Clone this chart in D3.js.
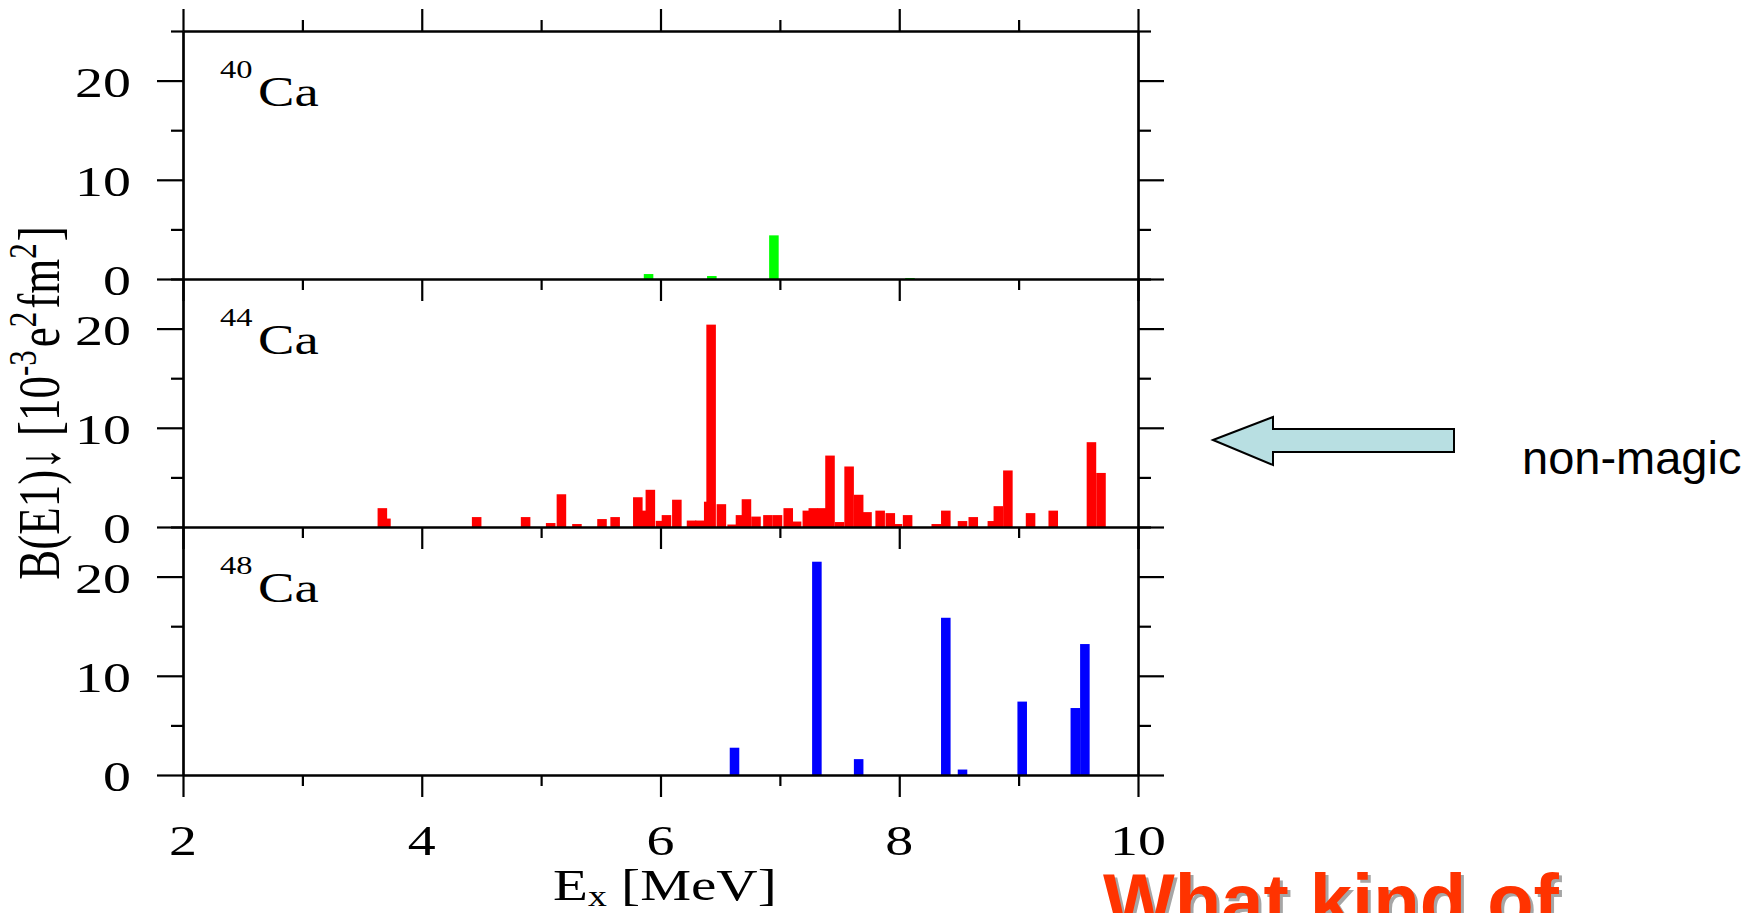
<!DOCTYPE html>
<html>
<head>
<meta charset="utf-8">
<script src="https://cdn.jsdelivr.net/npm/d3@7"></script>
<style>
  html, body { margin: 0; padding: 0; background: #fff; }
  svg { display: block; }
</style>
</head>
<body>
<div id="chart"></div>
<script>
// B(E1) strength distributions
const isotopes = ["40", "44", "48"];

const ca40Energy   = [5.90, 6.43, 6.95, 8.09];
const ca40Strength = [0.5, 0.3, 4.4, 0.1];

const ca44Energy = [3.67, 3.70, 4.46, 4.87, 5.08, 5.17, 5.30, 5.51, 5.62, 5.81,
                    5.85, 5.915, 6.00, 6.05, 6.137, 6.26, 6.33, 6.404, 6.424, 6.51,
                    6.60, 6.67, 6.72, 6.80, 6.90, 6.98, 7.07, 7.14, 7.23, 7.28,
                    7.355, 7.42, 7.50, 7.58, 7.66, 7.73, 7.84, 7.925, 7.985, 8.07,
                    8.31, 8.39, 8.53, 8.62, 8.78, 8.83, 8.91, 9.10, 9.29, 9.61, 9.69];
const ca44Strength = [1.9, 0.85, 1.0, 1.0, 0.4, 3.3, 0.3, 0.8, 1.0, 3.0,
                      1.65, 3.75, 0.62, 1.2, 2.75, 0.65, 0.65, 2.55, 20.4, 2.3,
                      0.25, 1.2, 2.8, 1.05, 1.2, 1.2, 1.9, 0.55, 1.65, 1.9,
                      1.9, 7.2, 0.5, 6.1, 3.25, 1.5, 1.65, 1.4, 0.3, 1.2,
                      0.3, 1.65, 0.6, 1.0, 0.6, 2.1, 5.7, 1.4, 1.65, 8.55, 5.45];

const ca48Energy   = [6.62, 7.31, 7.66, 8.39, 8.53, 9.03, 9.475, 9.555];
const ca48Strength = [2.75, 21.5, 1.6, 15.85, 0.55, 7.4, 6.75, 13.2];

const xMajorTicks = [2, 4, 6, 8, 10];
const xMinorTicks = [3, 5, 7, 9];
const yMajorTicks = [0, 10, 20];
const yMinorTicks = [5, 15, 25];

const panels = [
    { label: isotopes[0], energy: ca40Energy, strength: ca40Strength, color: "#00ff00" },
    { label: isotopes[1], energy: ca44Energy, strength: ca44Strength, color: "#ff0000" },
    { label: isotopes[2], energy: ca48Energy, strength: ca48Strength, color: "#0000ff" }
];

const width = 1756, height = 913;
const plotLeft = 183, plotRight = 1138, plotTop = 31;
const panelH = 248;
const barW = 0.08;       // bar width in MeV
const sx = 1.3;          // the slide stretches the serif text sideways
const serif = "'Liberation Serif', 'Times New Roman', serif";
const lw = 2.2;

const svg = d3.select("#chart").append("svg")
    .attr("width", width)
    .attr("height", height);

svg.append("rect").attr("width", width).attr("height", height).attr("fill", "#fff");

const x = d3.scaleLinear().domain([2, 10]).range([plotLeft, plotRight]);

// text helper with the horizontal stretch
const stretchText = function (parent, tx, ty, size, anchor) {
    return parent.append("text")
        .attr("transform", `translate(${tx},${ty}) scale(${sx},1)`)
        .attr("font-family", serif)
        .attr("font-size", size)
        .attr("text-anchor", anchor)
        .attr("fill", "#000");
};

const styleAxis = function (g) {
    g.select(".domain").attr("stroke", "#000").attr("stroke-width", lw);
    g.selectAll(".tick line").attr("stroke", "#000").attr("stroke-width", lw);
    g.selectAll(".tick text").remove();
};

const barLayer = svg.append("g").attr("class", "bars");
const axisLayer = svg.append("g").attr("class", "axes");

panels.forEach((p, i) => {
    const top = plotTop + i * panelH;
    const bottom = top + panelH;
    const y = d3.scaleLinear().domain([0, 25]).range([bottom, top]);

    // bars
    barLayer.append("g")
        .selectAll("rect")
        .data(d3.zip(p.energy, p.strength))
        .join("rect")
        .attr("x", (d) => x(d[0] - barW / 2))
        .attr("width", (d) => x(d[0] + barW / 2) - x(d[0] - barW / 2))
        .attr("y", (d) => y(d[1]))
        .attr("height", (d) => y(0) - y(d[1]))
        .attr("fill", p.color);

    // left axis, major + minor
    axisLayer.append("g").attr("transform", `translate(${plotLeft},0)`)
        .call(d3.axisLeft(y).tickValues(yMajorTicks).tickSize(26).tickSizeOuter(0))
        .call(styleAxis);
    axisLayer.append("g").attr("transform", `translate(${plotLeft},0)`)
        .call(d3.axisLeft(y).tickValues(yMinorTicks).tickSize(12).tickSizeOuter(0))
        .call(styleAxis);

    // right axis
    axisLayer.append("g").attr("transform", `translate(${plotRight},0)`)
        .call(d3.axisRight(y).tickValues(yMajorTicks).tickSize(26).tickSizeOuter(0))
        .call(styleAxis);
    axisLayer.append("g").attr("transform", `translate(${plotRight},0)`)
        .call(d3.axisRight(y).tickValues(yMinorTicks).tickSize(13).tickSizeOuter(0))
        .call(styleAxis);

    // bottom axis, ticks point down
    axisLayer.append("g").attr("transform", `translate(0,${bottom})`)
        .call(d3.axisBottom(x).tickValues(xMajorTicks).tickSize(22).tickSizeOuter(0))
        .call(styleAxis);
    axisLayer.append("g").attr("transform", `translate(0,${bottom})`)
        .call(d3.axisBottom(x).tickValues(xMinorTicks).tickSize(11).tickSizeOuter(0))
        .call(styleAxis);

    if (i === 0) {
        axisLayer.append("g").attr("transform", `translate(0,${top})`)
            .call(d3.axisTop(x).tickValues(xMajorTicks).tickSize(22).tickSizeOuter(0))
            .call(styleAxis);
        axisLayer.append("g").attr("transform", `translate(0,${top})`)
            .call(d3.axisTop(x).tickValues(xMinorTicks).tickSize(11).tickSizeOuter(0))
            .call(styleAxis);
    }

    // y tick labels
    yMajorTicks.forEach((t) => {
        stretchText(axisLayer, 131, y(t) + 16, 43, "end").text(t);
    });

    // isotope label
    stretchText(axisLayer, 220, top + 47, 25, "start").text(p.label);
    stretchText(axisLayer, 258, top + 75, 42, "start").text("Ca");
});

// x tick labels
const lastBottom = plotTop + 3 * panelH;
xMajorTicks.forEach((t) => {
    stretchText(axisLayer, x(t), lastBottom + 80, 43, "middle").text(t);
});

// x axis title
const xTitle = stretchText(axisLayer, 553, 900, 44, "start");
xTitle.append("tspan").text("E");
xTitle.append("tspan").attr("font-size", 29).attr("dy", 6).text("x");
xTitle.append("tspan").attr("dy", -6).text(" [MeV]");

// y axis title (rotated)
const yTitle = axisLayer.append("text")
    .attr("transform", `translate(59,403) scale(${sx},1) rotate(-90)`)
    .attr("font-family", serif)
    .attr("font-size", 45)
    .attr("text-anchor", "middle")
    .attr("fill", "#000");
yTitle.append("tspan").text("B(E1)\u2193 [10");
yTitle.append("tspan").attr("font-size", 31).attr("dy", -18).text("-3");
yTitle.append("tspan").attr("dy", 18).attr("dx", 3).text("e");
yTitle.append("tspan").attr("font-size", 31).attr("dy", -18).text("2");
yTitle.append("tspan").attr("dy", 18).attr("dx", 3).text("fm");
yTitle.append("tspan").attr("font-size", 31).attr("dy", -18).text("2");
yTitle.append("tspan").attr("dy", 18).attr("dx", 2).text("]");

// annotation arrow pointing at the 44Ca panel
const arrowPts = [[1213, 440], [1273, 417], [1273, 429], [1454, 429],
                  [1454, 452], [1273, 452], [1273, 465]];
svg.append("polygon")
    .attr("points", arrowPts.map((d) => d.join(",")).join(" "))
    .attr("fill", "#b8dfe2")
    .attr("stroke", "#000")
    .attr("stroke-width", 2);

svg.append("text")
    .attr("x", 1522).attr("y", 474)
    .attr("font-family", "'Liberation Sans', Arial, sans-serif")
    .attr("font-size", 47)
    .attr("fill", "#000")
    .text("non-magic");

// red slide heading, cut by the bottom edge
const heading = "What kind of";
svg.append("text")
    .attr("x", 1106).attr("y", 930)
    .attr("font-family", "'Liberation Sans', Arial, sans-serif")
    .attr("font-weight", "bold")
    .attr("font-size", 76)
    .attr("fill", "#a6a6a6")
    .text(heading);
svg.append("text")
    .attr("x", 1103).attr("y", 927)
    .attr("font-family", "'Liberation Sans', Arial, sans-serif")
    .attr("font-weight", "bold")
    .attr("font-size", 76)
    .attr("fill", "#ff3300")
    .text(heading);
</script>
</body>
</html>
